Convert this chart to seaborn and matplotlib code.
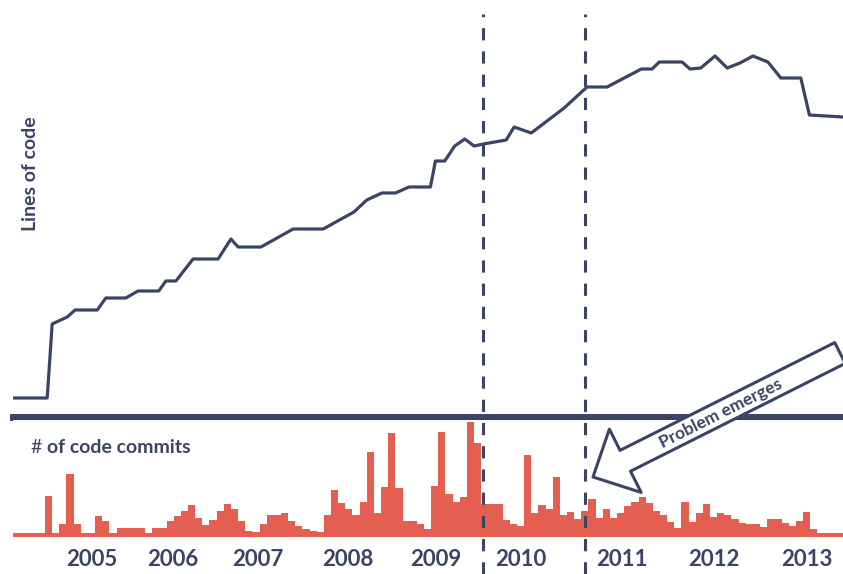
import numpy as np
import pandas as pd
import matplotlib.pyplot as plt
import matplotlib.transforms as mtransforms
from matplotlib.lines import Line2D
from matplotlib.patches import FancyArrowPatch
import seaborn as sns

navy = '#3c4466'
red = '#e45f50'

# monthly commit counts (month index 0 = first month shown)
commits = [0, 0, 0, 0, 41, 0, 13, 63, 13, 0,
           0, 21, 16, 0, 9, 9, 9, 9, 0, 9,
           9, 16, 21, 26, 32, 19, 12, 17, 26, 33,
           28, 16, 6, 5, 13, 22, 22, 24, 16, 11,
           8, 6, 5, 22, 47, 34, 28, 22, 35, 85,
           24, 50, 104, 49, 16, 16, 13, 8, 51, 105,
           43, 35, 40, 115, 94, 33, 33, 33, 17, 13,
           11, 82, 24, 32, 28, 60, 22, 25, 18, 26,
           38, 19, 28, 19, 24, 31, 35, 40, 34, 26,
           22, 15, 9, 35, 15, 24, 33, 20, 24, 22,
           18, 14, 13, 13, 10, 18, 18, 14, 11, 16,
           25, 8, 0, 0, 0, 0]

# lines of code (relative units) at month positions
loc_month = [-0.5, 4.3, 5.0, 7.1, 8.2, 11.3, 12.5, 15.3, 17.0, 19.9,
             20.9, 22.3, 24.7, 28.2, 30.0, 31.0, 34.2, 38.7, 42.9, 47.2,
             49.0, 51.1, 53.0, 54.9, 57.9, 58.6, 59.9, 61.3, 62.7, 64.0,
             65.3, 68.5, 69.6, 72.0, 76.6, 79.8, 82.6, 87.4, 88.9, 89.9,
             93.1, 94.2, 95.7, 97.7, 99.4, 101.2, 103.0, 105.1, 106.9, 109.7,
             110.9, 115.6]
loc_value = [18, 18, 92, 99, 106, 106, 118, 118, 125, 125,
             135, 135, 157, 157, 177, 169, 169, 187, 187, 204,
             216, 223, 223, 229, 229, 255, 255, 270, 277, 270,
             272, 276, 289, 283, 308, 329, 329, 347, 347, 354,
             354, 347, 348, 360, 348, 353, 360, 354, 338, 338,
             301, 299]

years = ['2005', '2006', '2007', '2008', '2009', '2010', '2011', '2012', '2013']
year_pos = [10.6, 21.9, 33.8, 46.4, 58.7, 70.6, 84.6, 97.6, 110.6]
event_months = [65.3, 79.5]

sns.set_theme(style='white')
plt.rcParams['font.family'] = ['Lato', 'DejaVu Sans']

fig = plt.figure(figsize=(8.43, 5.74), dpi=100)
ax_top = fig.add_axes([0.01542, 0.27439, 0.98458, 0.70122])
ax_bot = fig.add_axes([0.01542, 0.06446, 0.98458, 0.20383])
xlim = (-0.48, 115.6)

# lines of code
sns.lineplot(x=loc_month, y=loc_value, ax=ax_top, color=navy, linewidth=2.3)
ax_top.set_xlim(xlim)
ax_top.set_ylim(-0.5, 402)
ax_top.set_xticks([])
ax_top.set_yticks([])
ax_top.set_xlabel('')
ax_top.set_ylabel('')
for s in ['top', 'left', 'right']:
    ax_top.spines[s].set_visible(False)
ax_top.spines['bottom'].set_color(navy)
ax_top.spines['bottom'].set_linewidth(5)

# commits
df = pd.DataFrame({'month': np.arange(len(commits)) + 0.5, 'commits': commits})
sns.histplot(data=df, x='month', weights='commits', binwidth=1, binrange=(0, len(commits)),
             element='step', color=red, alpha=1, linewidth=0, ax=ax_bot)
ax_bot.axhline(2, color=red, lw=2.9)
ax_bot.set_xlim(xlim)
ax_bot.set_ylim(0, 117)
ax_bot.set_yticks([])
ax_bot.set_xlabel('')
ax_bot.set_ylabel('')
sns.despine(ax=ax_bot, left=True, bottom=True)
ax_bot.set_xticks(year_pos)
ax_bot.set_xticklabels(years, fontweight='bold')
ax_bot.tick_params(axis='x', length=0, pad=8.5, labelsize=16, labelcolor=navy)

# dashed event markers spanning both panels
trans = mtransforms.blended_transform_factory(ax_bot.transData, fig.transFigure)
for m in event_months:
    fig.add_artist(Line2D([m, m], [0, 0.9756], transform=trans, color=navy,
                          lw=2.2, linestyle=(0, (4.0, 3.6)), zorder=5))

# annotation arrow
arrow = FancyArrowPatch(posA=(840 / 843, 221 / 574), posB=(593 / 843, 97 / 574),
                        transform=fig.transFigure,
                        arrowstyle='simple,head_length=26,head_width=51,tail_width=16.8',
                        mutation_scale=1, shrinkA=0, shrinkB=0,
                        fc='white', ec=navy, lw=2.2, zorder=6)
fig.add_artist(arrow)
fig.text(721 / 843, 1 - 413 / 574, 'Problem emerges', rotation=26.7, rotation_mode='anchor',
         ha='center', va='center', fontsize=12.5, fontweight='bold', color=navy, zorder=7)

fig.text(30 / 843, 1 - 174 / 574, 'Lines of code', rotation=90, ha='center', va='center',
         fontsize=14, fontweight='bold', color=navy)
fig.text(30 / 843, 1 - 453 / 574, '#', ha='left', va='baseline', fontsize=14, color=navy)
fig.text(47 / 843, 1 - 453 / 574, 'of code commits', ha='left', va='baseline',
         fontsize=14, fontweight='bold', color=navy)

fig.savefig('out.png', dpi=100, facecolor='white')
